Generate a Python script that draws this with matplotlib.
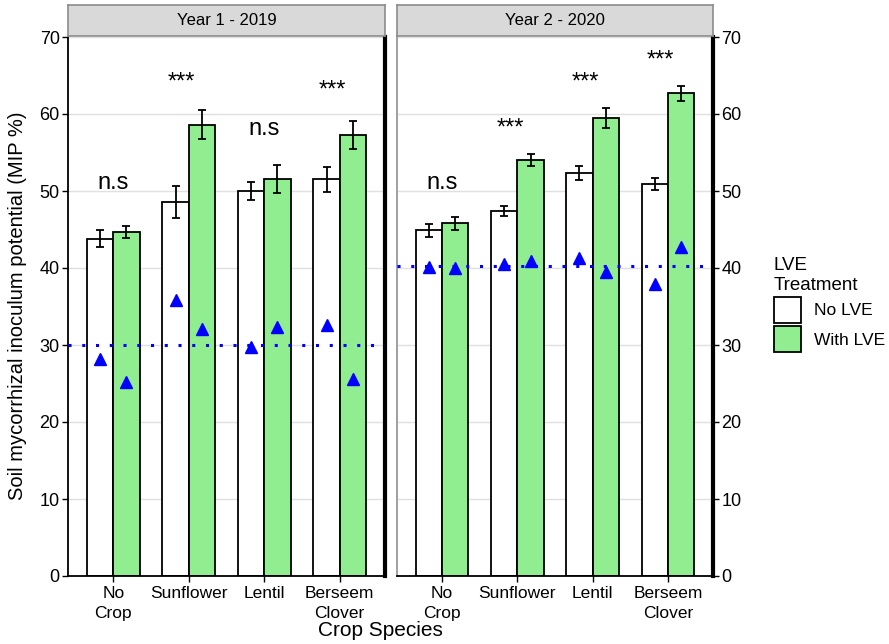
import matplotlib
matplotlib.use("Agg")
import matplotlib.pyplot as plt
from matplotlib.patches import Patch
import numpy as np

plt.rcParams['font.family'] = ['Liberation Sans', 'DejaVu Sans']

crops = ["No\nCrop", "Sunflower", "Lentil", "Berseem\nClover"]
years = ["Year 1 - 2019", "Year 2 - 2020"]
treatments = ["No LVE", "With LVE"]

# mean MIP % per year: [No LVE], [With LVE]
y1_no = [43.8, 48.6, 50.0, 51.5]
y1_with = [44.7, 58.6, 51.6, 57.3]
y1_no_se = [1.1, 2.1, 1.2, 1.6]
y1_with_se = [0.8, 1.9, 1.8, 1.8]
y1_tri_no = [28.2, 35.8, 29.7, 32.6]
y1_tri_with = [25.2, 32.1, 32.3, 25.6]
y1_ref = 30.0
y1_sig = ["n.s", "***", "n.s", "***"]
y1_sig_y = [51.0, 65.0, 58.0, 63.9]

y2_no = [44.9, 47.4, 52.3, 50.9]
y2_with = [45.8, 54.0, 59.5, 62.7]
y2_no_se = [0.85, 0.6, 0.9, 0.8]
y2_with_se = [0.8, 0.8, 1.3, 1.0]
y2_tri_no = [40.1, 40.5, 41.3, 37.9]
y2_tri_with = [40.0, 40.9, 39.5, 42.7]
y2_ref = 40.2
y2_sig = ["n.s", "***", "***", "***"]
y2_sig_y = [51.0, 59.0, 65.0, 67.9]

W, H = 889, 644
fig = plt.figure(figsize=(W / 100, H / 100), dpi=100)

def fx(px):
    return px / W

def fy(py):
    return 1 - py / H

panels = [
    (68, 385, years[0], y1_no, y1_with, y1_no_se, y1_with_se, y1_tri_no, y1_tri_with, y1_ref, y1_sig, y1_sig_y),
    (397, 713, years[1], y2_no, y2_with, y2_no_se, y2_with_se, y2_tri_no, y2_tri_with, y2_ref, y2_sig, y2_sig_y),
]

green = "#90EE90"
bw = 0.35
x = np.arange(1, 5)
for i, (x0, x1, title, no, wi, nse, wse, tno, twi, ref, sig, sigy) in enumerate(panels):
    ax = fig.add_axes([fx(x0), fy(576), fx(x1 - x0), fy(37) - fy(576)])
    ax.set_xlim(0.4, 4.6)
    ax.set_ylim(0, 70)
    ax.set_yticks(np.arange(0, 71, 10))
    for v in np.arange(10, 71, 10):
        ax.axhline(v, color="#E0E0E0", lw=1.0, zorder=0)
    ax.bar(x - bw / 2, no, width=bw, color="white", edgecolor="black", lw=1.3, zorder=2)
    ax.bar(x + bw / 2, wi, width=bw, color=green, edgecolor="black", lw=1.3, zorder=2)
    ax.errorbar(x - bw / 2, no, yerr=nse, fmt="none", ecolor="black", elinewidth=1.3, capsize=3, capthick=1.3, zorder=3)
    ax.errorbar(x + bw / 2, wi, yerr=wse, fmt="none", ecolor="black", elinewidth=1.3, capsize=3, capthick=1.3, zorder=3)
    ax.axhline(ref, color="blue", lw=2.2, ls=(0, (1, 3.5)), zorder=4)
    ax.plot(x - bw / 2, tno, ls="none", marker="^", color="blue", ms=8, zorder=5)
    ax.plot(x + bw / 2, twi, ls="none", marker="^", color="blue", ms=8, zorder=5)
    for xi, s, sy in zip(x, sig, sigy):
        if s == "n.s":
            ax.text(xi, sy, s, ha="center", va="center", fontsize=17, zorder=6)
        else:
            ax.text(xi - 0.1, sy - 0.9, s, ha="center", va="center", fontsize=17, zorder=6)
    ax.set_xticks(x)
    ax.set_xticklabels(crops, fontsize=12.5, linespacing=1.45)
    ax.tick_params(axis="x", length=4, width=1, color="black", pad=3)
    ax.tick_params(axis="y", length=4, width=1, labelsize=13, pad=2)
    ax.spines["top"].set_visible(False)
    ax.spines["bottom"].set_color("black")
    ax.spines["bottom"].set_linewidth(1.3)
    ax.spines["right"].set_color("black")
    ax.spines["right"].set_linewidth(3.0)
    if i == 0:
        ax.spines["left"].set_color("black")
        ax.spines["left"].set_linewidth(1.3)
    else:
        ax.spines["left"].set_color("#999999")
        ax.spines["left"].set_linewidth(1.3)
        ax.yaxis.tick_right()
        ax.tick_params(axis="y", which="both", left=False, right=True, labelleft=False, labelright=True)
    # strip
    sax = fig.add_axes([fx(x0), fy(36), fx(x1 - x0), fy(5) - fy(36)])
    sax.set_xticks([]); sax.set_yticks([])
    sax.set_facecolor("#D9D9D9")
    for sp in sax.spines.values():
        sp.set_color("#8C8C8C")
        sp.set_linewidth(1.2)
    sax.text(0.5, 0.5, title, ha="center", va="center", fontsize=12, transform=sax.transAxes)

fig.text(fx(18), fy(306), "Soil mycorrhizal inoculum potential (MIP %)", rotation=90,
         ha="center", va="center", fontsize=14.5)
fig.text(fx(380), fy(630), "Crop Species", ha="center", va="center", fontsize=15)

handles = [Patch(facecolor="white", edgecolor="black", lw=1.3), Patch(facecolor=green, edgecolor="black", lw=1.3)]
leg = fig.legend(handles, treatments, title="LVE\nTreatment", loc="upper left",
                 bbox_to_anchor=(fx(767), fy(250)), frameon=False, fontsize=12.5,
                 title_fontsize=13.5, handlelength=1.55, handleheight=1.9,
                 handletextpad=0.75, labelspacing=0.2, borderaxespad=0)
leg._legend_box.align = "left"

fig.savefig("out.png", dpi=100)
